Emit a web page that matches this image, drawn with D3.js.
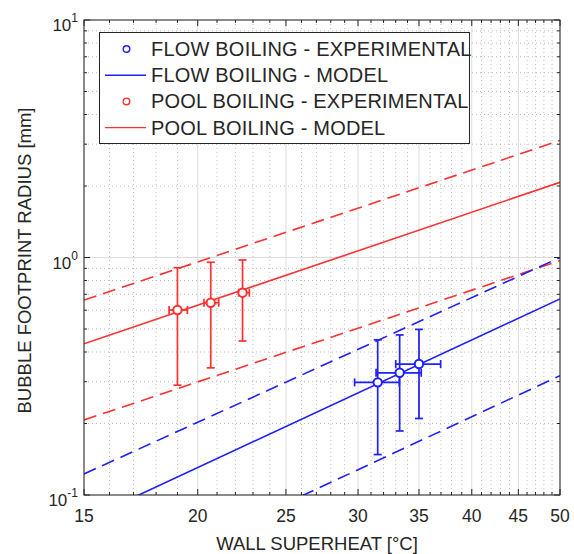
<!DOCTYPE html>
<html>
<head>
<meta charset="utf-8">
<script src="https://cdn.jsdelivr.net/npm/d3@7"></script>
<style>
  body { margin: 0; background: #fff; }
  svg text { font-family: "Liberation Sans", Arial, sans-serif; fill: #262626; }
</style>
</head>
<body>
<svg id="chart" width="574" height="554"></svg>
<script>
// data
const xTicks = [15, 20, 25, 30, 35, 40, 45, 50];
const yTicks = [0.1, 1, 10];
const yTickExp = ['-1', '0', '1'];

const poolX = [19.0, 20.67, 22.4];
const poolY = [0.601, 0.645, 0.711];
const poolXLo = [18.6, 20.32, 22.18];
const poolXHi = [19.48, 21.09, 22.79];
const poolYLo = [0.290, 0.343, 0.445];
const poolYHi = [0.906, 0.955, 0.976];

const flowX = [31.53, 33.33, 35.0];
const flowY = [0.298, 0.327, 0.356];
const flowXLo = [29.74, 31.4, 33.0];
const flowXHi = [33.3, 35.2, 36.97];
const flowYLo = [0.148, 0.186, 0.210];
const flowYHi = [0.450, 0.472, 0.498];

// model lines (end points at 15 and 50)
const modelX = [15, 50];
const poolModel = [0.433, 2.073];
const poolUpper = [0.662, 3.11];
const poolLower = [0.207, 0.97];
const flowModel = [0.0781, 0.669];
const flowUpper = [0.1226, 1.0];
const flowLower = [0.0371, 0.318];

const BLUE = '#1f1fff';
const RED = '#ff3030';
const INK = '#262626';

const margin = { left: 84, right: 14, top: 20, bottom: 59 };
const W = 574, H = 554;
const svg = d3.select('#chart');

const x = d3.scaleLog().domain([15, 50]).range([margin.left, W - margin.right]);
const y = d3.scaleLog().domain([0.1, 10]).range([H - margin.bottom, margin.top]);
const [x0, x1] = x.range();
const [y0, y1] = y.range();

// minor ticks
const xMinor = d3.range(16, 50).filter(v => v % 5 !== 0);
const yMinor = [];
[0.1, 1].forEach(d => { for (let k = 2; k <= 9; k++) yMinor.push(d * k); });

svg.append('defs').append('clipPath').attr('id', 'plot-clip')
    .append('rect').attr('x', x0).attr('y', y1).attr('width', x1 - x0).attr('height', y0 - y1);

// grid
const grid = svg.append('g');
grid.selectAll('.minx').data(xMinor).enter().append('line')
    .attr('x1', d => x(d)).attr('x2', d => x(d)).attr('y1', y1).attr('y2', y0)
    .attr('stroke', '#bdbdbd').attr('stroke-dasharray', '1,3');
grid.selectAll('.miny').data(yMinor).enter().append('line')
    .attr('y1', d => y(d)).attr('y2', d => y(d)).attr('x1', x0).attr('x2', x1)
    .attr('stroke', '#bdbdbd').attr('stroke-dasharray', '1,3');
grid.selectAll('.majx').data(xTicks).enter().append('line')
    .attr('x1', d => x(d)).attr('x2', d => x(d)).attr('y1', y1).attr('y2', y0)
    .attr('stroke', '#dcdcdc');
grid.selectAll('.majy').data(yTicks).enter().append('line')
    .attr('y1', d => y(d)).attr('y2', d => y(d)).attr('x1', x0).attr('x2', x1)
    .attr('stroke', '#dcdcdc');

// plot content
const plot = svg.append('g').attr('clip-path', 'url(#plot-clip)');
const line = d3.line().x(d => x(d[0])).y(d => y(d[1]));

function drawLine(vals, color, dashed) {
    plot.append('path')
        .datum(modelX.map((v, i) => [v, vals[i]]))
        .attr('d', line)
        .attr('fill', 'none')
        .attr('stroke', color)
        .attr('stroke-width', 1.6)
        .attr('stroke-dasharray', dashed ? '13,7' : null);
}
drawLine(poolUpper, RED, true);
drawLine(poolLower, RED, true);
drawLine(flowUpper, BLUE, true);
drawLine(flowLower, BLUE, true);
drawLine(poolModel, RED, false);
drawLine(flowModel, BLUE, false);

function drawPoints(xs, ys, xlo, xhi, ylo, yhi, color) {
    const g = plot.append('g').attr('stroke', color).attr('stroke-width', 1.7).attr('fill', 'none');
    const cap = 4;
    xs.forEach((v, i) => {
        const cx = x(v), cy = y(ys[i]);
        // vertical
        g.append('line').attr('x1', cx).attr('x2', cx).attr('y1', y(ylo[i])).attr('y2', y(yhi[i]));
        g.append('line').attr('x1', cx - cap).attr('x2', cx + cap).attr('y1', y(ylo[i])).attr('y2', y(ylo[i]));
        g.append('line').attr('x1', cx - cap).attr('x2', cx + cap).attr('y1', y(yhi[i])).attr('y2', y(yhi[i]));
        // horizontal
        g.append('line').attr('x1', x(xlo[i])).attr('x2', x(xhi[i])).attr('y1', cy).attr('y2', cy);
        g.append('line').attr('x1', x(xlo[i])).attr('x2', x(xlo[i])).attr('y1', cy - cap).attr('y2', cy + cap);
        g.append('line').attr('x1', x(xhi[i])).attr('x2', x(xhi[i])).attr('y1', cy - cap).attr('y2', cy + cap);
    });
    g.selectAll('circle').data(xs).enter().append('circle')
        .attr('cx', d => x(d)).attr('cy', (d, i) => y(ys[i]))
        .attr('r', 4.2).attr('fill', '#fff').attr('stroke-width', 2);
}
drawPoints(poolX, poolY, poolXLo, poolXHi, poolYLo, poolYHi, RED);
drawPoints(flowX, flowY, flowXLo, flowXHi, flowYLo, flowYHi, BLUE);

// axes box and ticks
const axes = svg.append('g').attr('stroke', INK).attr('fill', 'none');
axes.append('rect').attr('x', x0).attr('y', y1).attr('width', x1 - x0).attr('height', y0 - y1).attr('stroke-width', 1);
[[xTicks, 6], [xMinor, 3]].forEach(([vals, len]) => {
    vals.forEach(v => {
        axes.append('line').attr('x1', x(v)).attr('x2', x(v)).attr('y1', y0).attr('y2', y0 - len);
        axes.append('line').attr('x1', x(v)).attr('x2', x(v)).attr('y1', y1).attr('y2', y1 + len);
    });
});
[[yTicks, 6], [yMinor, 3]].forEach(([vals, len]) => {
    vals.forEach(v => {
        axes.append('line').attr('y1', y(v)).attr('y2', y(v)).attr('x1', x0).attr('x2', x0 + len);
        axes.append('line').attr('y1', y(v)).attr('y2', y(v)).attr('x1', x1).attr('x2', x1 - len);
    });
});

// tick labels
svg.selectAll('.xt').data(xTicks).enter().append('text')
    .attr('x', d => x(d)).attr('y', y0 + 27)
    .attr('text-anchor', 'middle').attr('font-size', 17.5)
    .text(d => d);

const yl = svg.selectAll('.yt').data(yTicks).enter().append('text')
    .attr('x', x0 - 6).attr('y', d => y(d) + 11)
    .attr('text-anchor', 'end').attr('font-size', 17);
yl.append('tspan').text('10');
yl.append('tspan').attr('dy', -9).attr('font-size', 12).text((d, i) => yTickExp[i]);

// axis labels
svg.append('text').attr('x', (x0 + x1) / 2 - 5).attr('y', 550)
    .attr('text-anchor', 'middle').attr('font-size', 18.5)
    .text('WALL SUPERHEAT [°C]');
svg.append('text').attr('transform', `translate(31,${(y0 + y1) / 2 + 3}) rotate(-90)`)
    .attr('text-anchor', 'middle').attr('font-size', 18.5)
    .text('BUBBLE FOOTPRINT RADIUS [mm]');

// legend
const legendItems = [
    { label: 'FLOW BOILING - EXPERIMENTAL', color: BLUE, type: 'marker' },
    { label: 'FLOW BOILING - MODEL', color: BLUE, type: 'line' },
    { label: 'POOL BOILING - EXPERIMENTAL', color: RED, type: 'marker' },
    { label: 'POOL BOILING - MODEL', color: RED, type: 'line' }
];
const lg = svg.append('g');
lg.append('rect').attr('x', 99.5).attr('y', 32.5).attr('width', 370).attr('height', 111)
    .attr('fill', '#fff').attr('stroke', INK);
const rows = lg.selectAll('.row').data(legendItems).enter().append('g')
    .attr('transform', (d, i) => `translate(0,${49 + i * 26.2})`);
rows.filter(d => d.type === 'marker').append('circle')
    .attr('cx', 126.5).attr('cy', 0).attr('r', 3.3)
    .attr('fill', '#fff').attr('stroke', d => d.color).attr('stroke-width', 1.4);
rows.filter(d => d.type === 'line').append('line')
    .attr('x1', 105).attr('x2', 146).attr('y1', 0).attr('y2', 0)
    .attr('stroke', d => d.color).attr('stroke-width', 1.4);
rows.append('text').attr('x', 151).attr('y', 7).attr('font-size', 20)
    .attr('letter-spacing', 0.2)
    .text(d => d.label);
</script>
</body>
</html>
